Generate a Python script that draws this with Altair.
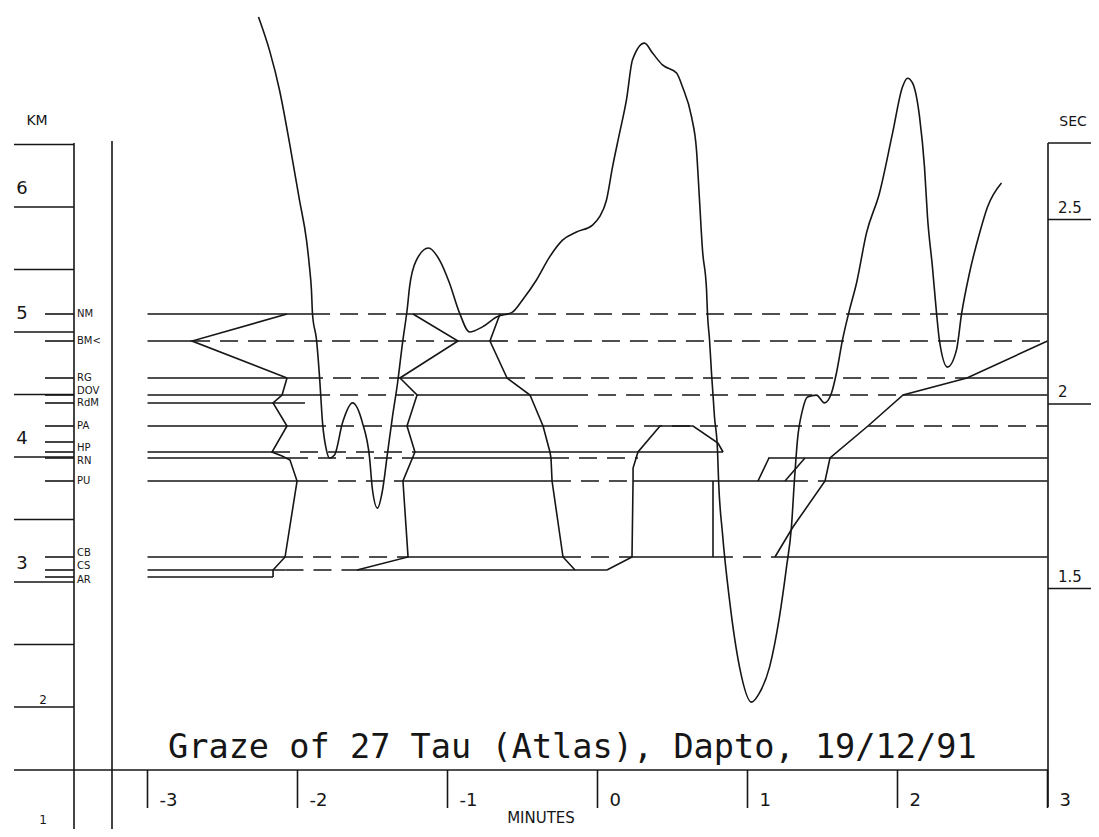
import altair as alt
import pandas as pd

# ---------------- data ----------------
MINUTE_TICKS = [-3, -2, -1, 0, 1, 2, 3]
MINUTE_LABELS = ["-3", "-2", "-1", "0", "1", "2", "3"]

KM_GRID = [6.5, 6.0, 5.5, 5.0, 4.5, 4.0, 3.5, 3.0, 2.5, 2.0]
KM_LABEL_VALUES = [6, 5, 4, 3]
KM_LABEL_TEXT = ["6", "5", "4", "3"]
KM_SMALL_VALUES = [2]
KM_SMALL_TEXT = ["2"]
KM_BOTTOM_VALUES = [1]
KM_BOTTOM_TEXT = ["1"]

SEC_TICKS = [2.5, 2.0, 1.5]
SEC_LABELS = ["2.5", "2", "1.5"]

STATIONS = ["NM", "BM", "RG", "DOV", "RdM", "PA", "HP", "RN", "PU", "CB", "CS", "AR"]
STATION_LABELS = ["NM", "BM<", "RG", "DOV", "RdM", "PA", "HP", "RN", "PU", "CB", "CS", "AR"]
STATION_KM = [5.144, 4.928, 4.632, 4.496, 4.432, 4.248, 4.040, 3.992, 3.808, 3.200, 3.096, 3.040]
EXTRA_TICK_KM = [4.12]
# labels drawn a little above their line (crowded pairs) / a little below
LABELS_RAISED = ["DOV", "HP", "CS", "CB"]
LABELS_LOWERED = ["RN", "AR"]

# chord of each station: break points (minutes) and style of each piece
STATION_BREAKS = {
    "NM": [-3.0, -1.903, -1.230, -0.583, 2.397, 3.0],
    "BM": [-3.0, -2.703, -0.917, -0.717, 3.0],
    "RG": [-3.0, -1.950, -1.317, -0.603, 2.463, 3.0],
    "DOV": [-3.0, -1.903, -1.203, -0.183, 2.037, 3.0],
    "RdM": [-3.0, -1.950],
    "PA": [-3.0, -1.930, -1.283, -0.250, 3.0],
    "HP": [-3.0, -2.170, -1.217, 0.837],
    "RN": [-3.0, -2.050, -1.217, -0.310, 0.270, 1.137, 3.0],
    "PU": [-3.0, -1.917, -1.297, -0.297, 0.237, 1.283, 1.517, 3.0],
    "CB": [-3.0, -2.083, -1.270, -0.230, 0.230, 0.783, 1.183, 3.0],
    "CS": [-3.0, -2.080, -1.603, 0.063],
    "AR": [-3.0, -2.163],
}
STATION_STYLES = {
    "NM": ["s", "d", "s", "d", "s"],
    "BM": ["s", "d", "s", "d"],
    "RG": ["s", "d", "s", "d", "s"],
    "DOV": ["s", "d", "s", "d", "s"],
    "RdM": ["s"],
    "PA": ["s", "d", "s", "d"],
    "HP": ["s", "d", "s"],
    "RN": ["s", "d", "s", "d", "off", "s"],
    "PU": ["s", "d", "s", "d", "s", "d", "s"],
    "CB": ["s", "d", "s", "d", "s", "d", "s"],
    "CS": ["s", "d", "s"],
    "AR": ["s"],
}

# event polylines joining the timings of the stations (minutes, km)
EVENT_PATHS = {
    "P1": ([-2.070, -2.703, -2.070], [5.144, 4.928, 4.632]),
    "P2": ([-2.070, -2.103, -2.163, -2.070, -2.170, -2.103, -2.050, -2.003, -2.083, -2.163, -2.163],
           [4.632, 4.496, 4.432, 4.248, 4.040, 4.008, 3.976, 3.808, 3.200, 3.096, 3.040]),
    "P3": ([-1.230, -0.930, -1.317, -1.203, -1.270, -1.217, -1.297, -1.263, -1.603],
           [5.144, 4.928, 4.632, 4.496, 4.248, 4.040, 3.808, 3.200, 3.096]),
    "P4": ([-0.650, -0.717, -0.603, -0.450, -0.363, -0.317, -0.310, -0.303, -0.230, -0.150],
           [5.144, 4.928, 4.632, 4.496, 4.248, 4.040, 3.992, 3.808, 3.200, 3.096]),
    "P5": ([0.063, 0.230, 0.237, 0.237, 0.270, 0.417, 0.637, 0.803, 0.837],
           [3.096, 3.200, 3.808, 3.912, 4.040, 4.248, 4.248, 4.112, 4.040]),
    "P6": ([0.770, 0.770], [3.200, 3.808]),
    "P7": ([1.070, 1.143], [3.808, 3.992]),
    "P8": ([1.250, 1.383], [3.808, 3.992]),
    "P9": ([1.183, 1.303, 1.517, 1.550, 1.803, 2.037, 2.463, 3.0],
           [3.200, 3.440, 3.808, 3.992, 4.248, 4.496, 4.632, 4.928]),
}

# predicted limb profile (minutes, arc-seconds on the right scale)
PROFILE_MIN = [-2.260, -2.187, -2.120, -2.053, -1.987, -1.940, -1.920, -1.907, -1.900, -1.873,
               -1.853, -1.833, -1.807, -1.787, -1.753, -1.700, -1.633, -1.567, -1.520, -1.500,
               -1.467, -1.433, -1.400, -1.367, -1.333, -1.300, -1.267, -1.253, -1.207, -1.127,
               -1.053, -0.987, -0.920, -0.853, -0.767, -0.673, -0.567, -0.500, -0.407, -0.320,
               -0.233, -0.140, -0.033, 0.013, 0.060, 0.100, 0.147, 0.193, 0.233, 0.313,
               0.367, 0.433, 0.527, 0.567, 0.627, 0.660, 0.680, 0.700, 0.727, 0.733,
               0.747, 0.760, 0.780, 0.800, 0.807, 0.833, 0.880, 0.947, 1.027, 1.080,
               1.147, 1.213, 1.260, 1.293, 1.313, 1.333, 1.367, 1.400, 1.460, 1.513,
               1.560, 1.593, 1.633, 1.680, 1.727, 1.793, 1.880, 1.967, 2.033, 2.067,
               2.100, 2.147, 2.180, 2.200, 2.233, 2.260, 2.280, 2.333, 2.393, 2.427,
               2.480, 2.547, 2.600, 2.693]
PROFILE_SEC = [3.049, 2.959, 2.851, 2.707, 2.553, 2.444, 2.371, 2.309, 2.244, 2.173,
               2.073, 1.949, 1.875, 1.854, 1.862, 1.949, 2.003, 1.949, 1.856, 1.767,
               1.718, 1.767, 1.867, 1.965, 2.057, 2.165, 2.263, 2.317, 2.390, 2.423,
               2.390, 2.328, 2.247, 2.195, 2.209, 2.236, 2.249, 2.282, 2.336, 2.398,
               2.444, 2.466, 2.485, 2.507, 2.553, 2.642, 2.734, 2.824, 2.932, 2.978,
               2.951, 2.919, 2.897, 2.859, 2.778, 2.688, 2.553, 2.417, 2.309, 2.247,
               2.173, 2.084, 1.965, 1.875, 1.794, 1.650, 1.469, 1.287, 1.192, 1.217,
               1.287, 1.423, 1.558, 1.667, 1.794, 1.902, 1.984, 2.019, 2.024, 2.003,
               2.030, 2.084, 2.173, 2.255, 2.328, 2.463, 2.572, 2.734, 2.859, 2.883,
               2.870, 2.778, 2.642, 2.507, 2.371, 2.247, 2.171, 2.100, 2.146, 2.244,
               2.355, 2.463, 2.534, 2.599]

TITLE = "Graze of 27 Tau (Atlas), Dapto, 19/12/91"

# ---------------- tables ----------------
seg_rows = []
for st, km in zip(STATIONS, STATION_KM):
    br = STATION_BREAKS[st]
    for a, b, sty in zip(br[:-1], br[1:], STATION_STYLES[st]):
        if sty != "off":
            seg_rows.append({"station": st, "km": km, "start": a, "end": b, "style": sty})
segments = pd.DataFrame(seg_rows)

path_rows = []
for pid, (ms, ks) in EVENT_PATHS.items():
    for i, (m, k) in enumerate(zip(ms, ks)):
        path_rows.append({"path": pid, "i": i, "m": m, "km": k})
paths = pd.DataFrame(path_rows)

profile = pd.DataFrame({"i": list(range(len(PROFILE_MIN))), "m": PROFILE_MIN, "s": PROFILE_SEC})
stations = pd.DataFrame({"station": STATIONS, "km": STATION_KM, "label": STATION_LABELS})
st_raised = stations[stations.station.isin(LABELS_RAISED)]
st_lowered = stations[stations.station.isin(LABELS_LOWERED)]
st_plain = stations[~stations.station.isin(LABELS_RAISED + LABELS_LOWERED)]
short_ticks = pd.DataFrame({"km": STATION_KM + EXTRA_TICK_KM})
km_grid = pd.DataFrame({"km": KM_GRID})
km_labels = pd.DataFrame({"km": KM_LABEL_VALUES, "t": KM_LABEL_TEXT})
km_small = pd.DataFrame({"km": KM_SMALL_VALUES, "t": KM_SMALL_TEXT})
km_bottom = pd.DataFrame({"km": KM_BOTTOM_VALUES, "t": KM_BOTTOM_TEXT})
sec_df = pd.DataFrame({"s": SEC_TICKS, "t": SEC_LABELS})
min_df = pd.DataFrame({"m": MINUTE_TICKS, "t": MINUTE_LABELS})
one = pd.DataFrame({"a": [0]})

# ---------------- scales / style ----------------
W, H = 1083, 821
XS = alt.Scale(domain=[-3.93, 3.29], nice=False, zero=False)
KM = alt.Scale(domain=[1.024, 7.592], nice=False, zero=False)
SEC = alt.Scale(domain=[0.8483, 3.0732], nice=False, zero=False)
INK = "#161616"
LW = 1.6
FONT = "DejaVu Sans"


def X(f):
    return alt.X(f, type="quantitative", scale=XS, axis=None)


def YK(f):
    return alt.Y(f, type="quantitative", scale=KM, axis=None)


def YS(f):
    return alt.Y(f, type="quantitative", scale=SEC, axis=None)


layers = []

# left KM axis: long ticks, verticals
layers.append(alt.Chart(km_grid).mark_rule(color=INK, strokeWidth=LW).encode(
    x=alt.value(6), x2=alt.value(66), y=YK("km")))
layers.append(alt.Chart(one).mark_rule(color=INK, strokeWidth=LW).encode(
    x=alt.value(66), y=alt.value(135), y2=alt.value(H)))
layers.append(alt.Chart(one).mark_rule(color=INK, strokeWidth=LW).encode(
    x=alt.value(104), y=alt.value(133), y2=alt.value(H)))
layers.append(alt.Chart(short_ticks).mark_rule(color=INK, strokeWidth=LW).encode(
    x=alt.value(37), x2=alt.value(66), y=YK("km")))

# bottom minutes axis
layers.append(alt.Chart(one).mark_rule(color=INK, strokeWidth=LW).encode(
    x=alt.value(6), x2=alt.value(1040), y=alt.value(762)))
layers.append(alt.Chart(min_df).mark_rule(color=INK, strokeWidth=LW).encode(
    x=X("m"), y=alt.value(762), y2=alt.value(800)))
layers.append(alt.Chart(min_df).mark_text(
    align="left", baseline="middle", dx=12, fontSize=18, font=FONT, color=INK).encode(
    x=X("m"), y=alt.value(793), text="t:N"))

# right SEC axis
layers.append(alt.Chart(one).mark_rule(color=INK, strokeWidth=LW).encode(
    x=alt.value(1040), y=alt.value(135), y2=alt.value(799)))
layers.append(alt.Chart(one).mark_rule(color=INK, strokeWidth=LW).encode(
    x=alt.value(1040), x2=alt.value(1089), y=alt.value(135)))
layers.append(alt.Chart(sec_df).mark_rule(color=INK, strokeWidth=LW).encode(
    x=alt.value(1040), x2=alt.value(1089), y=YS("s")))
layers.append(alt.Chart(sec_df).mark_text(
    align="left", baseline="middle", dy=-12, fontSize=15, font=FONT, color=INK).encode(
    x=alt.value(1050), y=YS("s"), text="t:N"))

# station chords
layers.append(alt.Chart(segments).mark_rule(color=INK, strokeWidth=LW).encode(
    x=X("start"), x2="end:Q", y=YK("km"),
    strokeDash=alt.StrokeDash("style:N", scale=alt.Scale(domain=["s", "d"], range=[[1, 0], [18, 10]]),
                              legend=None)))

# event polylines
layers.append(alt.Chart(paths).mark_line(color=INK, strokeWidth=LW).encode(
    x=X("m"), y=YK("km"), detail="path:N", order="i:Q"))

# limb profile
layers.append(alt.Chart(profile).mark_line(color=INK, strokeWidth=LW, interpolate="monotone").encode(
    x=X("m"), y=YS("s"), order="i:Q"))

# station labels
for df, dy in ((st_plain, 0), (st_raised, -4), (st_lowered, 3)):
    layers.append(alt.Chart(df).mark_text(
        align="left", baseline="middle", dy=dy, fontSize=10, font=FONT, color=INK).encode(
        x=alt.value(69), y=YK("km"), text="label:N"))

# axis labels and title
layers.append(alt.Chart(km_labels).mark_text(
    align="center", baseline="middle", dy=-18, fontSize=18, font=FONT, color=INK).encode(
    x=alt.value(14), y=YK("km"), text="t:N"))
layers.append(alt.Chart(km_small).mark_text(
    align="center", baseline="middle", dy=-7, fontSize=12, font=FONT, color=INK).encode(
    x=alt.value(35), y=YK("km"), text="t:N"))
layers.append(alt.Chart(km_bottom).mark_text(
    align="center", baseline="middle", dy=-12, fontSize=12, font=FONT, color=INK).encode(
    x=alt.value(35), y=YK("km"), text="t:N"))
layers.append(alt.Chart(one).mark_text(
    align="center", baseline="middle", fontSize=14, font=FONT, color=INK, text="KM").encode(
    x=alt.value(29), y=alt.value(113)))
layers.append(alt.Chart(one).mark_text(
    align="center", baseline="middle", fontSize=14, font=FONT, color=INK, text="SEC").encode(
    x=alt.value(1065), y=alt.value(114)))
layers.append(alt.Chart(one).mark_text(
    align="center", baseline="middle", fontSize=15, font=FONT, color=INK, text="MINUTES").encode(
    x=alt.value(533), y=alt.value(810)))
layers.append(alt.Chart(one).mark_text(
    align="left", baseline="alphabetic", fontSize=33.6, font="DejaVu Sans Mono", color=INK,
    text=TITLE).encode(
    x=alt.value(160), y=alt.value(750)))

chart = alt.layer(*layers).resolve_scale(y="independent").properties(
    width=W, height=H, padding=0, background="white",
    autosize=alt.AutoSizeParams(type="none"),
).configure_view(strokeWidth=0)

chart.save("out.html", embed_options={"renderer": "svg", "actions": False})
